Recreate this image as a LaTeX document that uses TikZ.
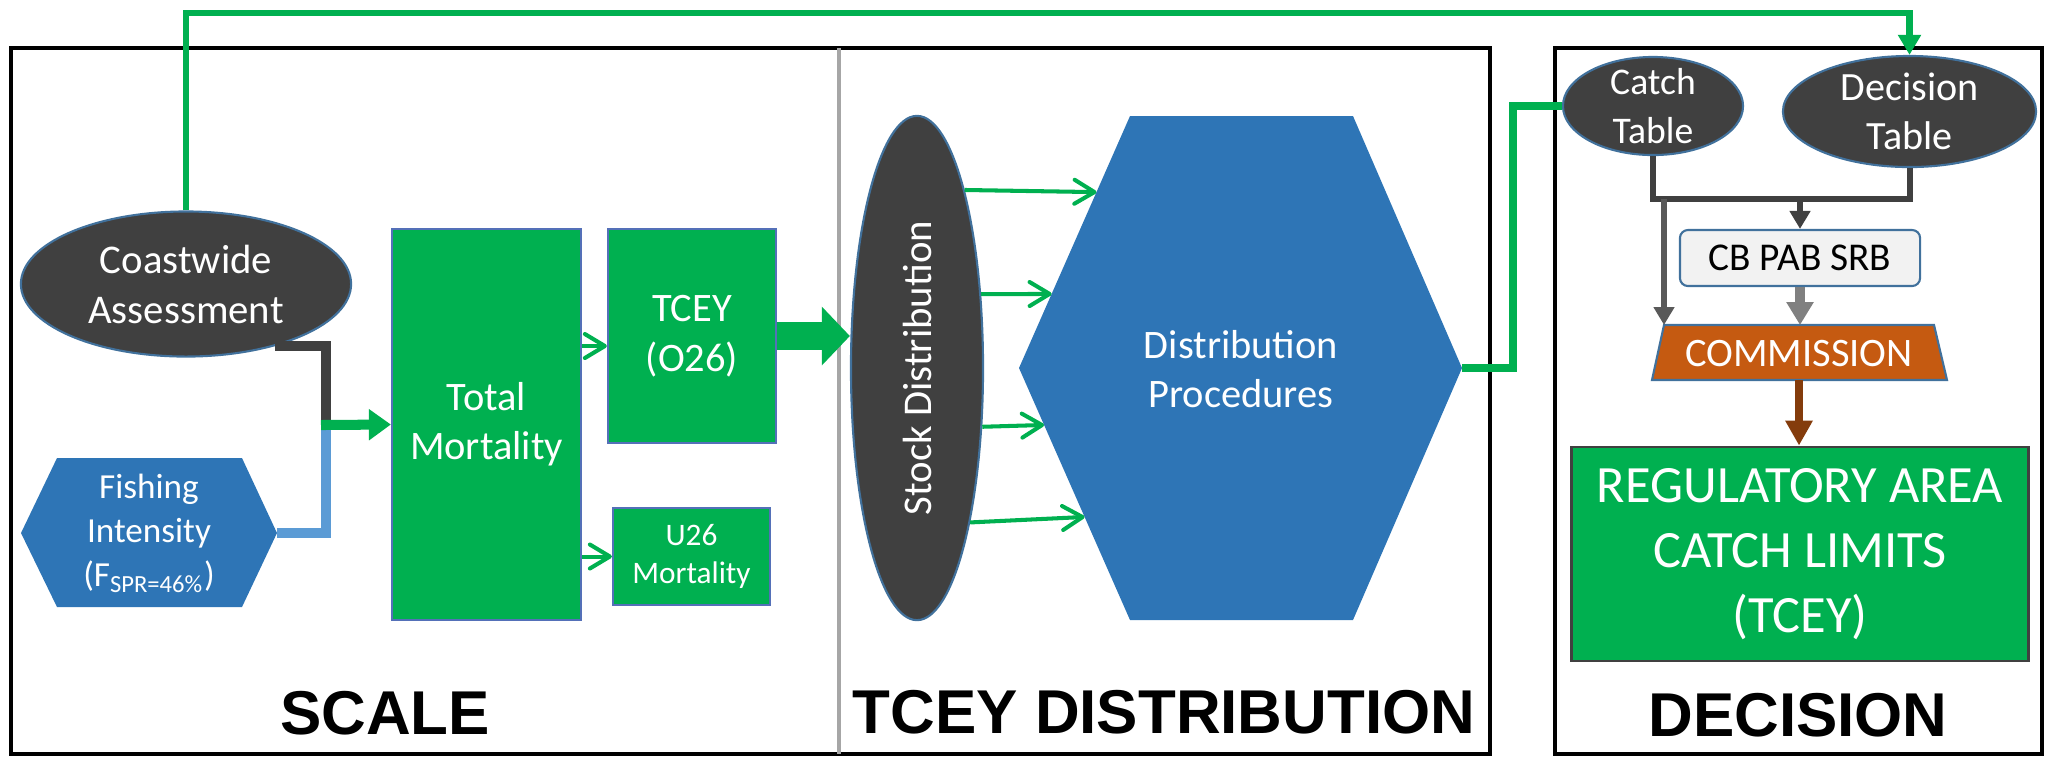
\documentclass[tikz,border=0pt]{standalone}
\usepackage{fontspec}
\setmainfont{Carlito}
\newfontfamily\headfont{Liberation Sans}
\usepackage{graphicx}
\usetikzlibrary{arrows.meta,shapes.geometric,calc}

\definecolor{mortgreen}{HTML}{00B050}
\definecolor{hexblue}{HTML}{2E75B6}
\definecolor{linkblue}{HTML}{5B9BD5}
\definecolor{darkfill}{HTML}{404040}
\definecolor{rimblue}{HTML}{41719C}
\definecolor{boxrim}{HTML}{5470B8}
\definecolor{commorange}{HTML}{C55A11}
\definecolor{commbrown}{HTML}{843C0C}
\definecolor{cbfill}{HTML}{F2F2F2}
\definecolor{midgray}{HTML}{595959}
\definecolor{arrowgray}{HTML}{808080}

\newcommand{\txtsize}[2]{\fontsize{#1}{#2}\selectfont}

\begin{document}
\begin{tikzpicture}[x=0.01cm,y=-0.01cm,
  frame/.style={draw=black,line width=1.1pt},
  darkell/.style={ellipse,fill=darkfill,draw=rimblue,line width=0.6pt,text=white,align=center,inner sep=0pt},
  greenbox/.style={rectangle,fill=mortgreen,draw=boxrim,line width=0.6pt,text=white,align=center,inner sep=0pt},
  headlbl/.style={font={\headfont\bfseries\txtsize{17.6}{20}},inner sep=0pt},
  darklink/.style={draw=darkfill,line width=2.85pt},
  bluelink/.style={draw=linkblue,line width=2.85pt},
  feedarr/.style={draw=mortgreen,line width=2.85pt,-{Triangle[length=2.2mm,width=3mm]}},
  bigarr/.style={draw=mortgreen,line width=7.7pt,-{Triangle[length=2.8mm,width=5.7mm]}},
  thinarr/.style={draw=mortgreen,line width=1.15pt,-{Straight Barb[length=2mm,width=2.4mm,round]}},
  greenlink/.style={draw=mortgreen,line width=2.3pt},
  toparr/.style={draw=mortgreen,line width=1.8pt,-{Triangle[length=2mm,width=2.2mm]}},
  barlink/.style={draw=darkfill,line width=1.7pt},
  bararr/.style={draw=darkfill,line width=1.7pt,-{Triangle[length=1.8mm,width=2mm]}},
  cbarr/.style={draw=arrowgray,line width=2.6pt,-{Triangle[length=2.3mm,width=2.6mm]}},
  brownarr/.style={draw=commbrown,line width=2.3pt,-{Triangle[length=2.5mm,width=2.6mm]}}]

\useasboundingbox (0,0) rectangle (2045,756);

\draw[frame] (11,48) rectangle (1490,754);
\draw[frame] (1555,48) rectangle (2042,754);
\draw[gray!70,line width=0.9pt] (839,48) -- (839,754);

\node[darkell,minimum width=3.3cm,minimum height=1.45cm,font={\txtsize{11.6}{14.2}}] (coast) at (186,284) {Coastwide\\Assessment};
\fill[hexblue] (21,533) -- (57,458) -- (242,458) -- (277,533) coordinate (fishtip) -- (242,607) -- (57,607) -- cycle;
\node[text=white,align=center,inner sep=0pt,font={\txtsize{10}{12.6}}] (fish) at (149,533) {Fishing\\Intensity\\(F\textsubscript{SPR=46\%})};
\node[greenbox,minimum width=1.89cm,minimum height=3.91cm,font={\txtsize{11.5}{14}}] (total) at (486.5,424.5) {Total\\Mortality};
\node[greenbox,minimum width=1.68cm,minimum height=2.14cm,font={\txtsize{11.5}{14.2}}] (tcey) at (692,336) {TCEY\\(O26)};
\node[greenbox,minimum width=1.57cm,minimum height=0.97cm,font={\txtsize{8.9}{11}}] (u26) at (691.5,556.5) {U26\\Mortality};
\node[headlbl] (scalelbl) at (385,713) {SCALE};

\node[darkell,minimum width=1.32cm,minimum height=5.04cm,font={\txtsize{11.6}{14}}] (stock) at (917,368) {\rotatebox{90}{Stock Distribution}};
\fill[hexblue] (1019,368) coordinate (dl) -- (1130,116) coordinate (dul) -- (1353,116) -- (1462,368) coordinate (dr) -- (1353,620) -- (1130,620) coordinate (dll) -- cycle;
\node[text=white,align=center,inner sep=0pt,font={\txtsize{11.5}{13.7}}] (procs) at (1241,369) {Distribution\\Procedures};
\node[headlbl] (distlbl) at (1164,712) {TCEY DISTRIBUTION};

\node[darkell,inner ysep=-1mm,minimum width=1.8cm,minimum height=0.98cm,font={\txtsize{10.7}{13.8}}] (catch) at (1653,106) {Catch\\Table};
\node[darkell,inner ysep=-1mm,minimum width=2.53cm,minimum height=1.11cm,font={\txtsize{11.4}{13.9}}] (dect) at (1909.5,111.5) {Decision\\Table};
\node[rectangle,rounded corners=0.08cm,fill=cbfill,draw=rimblue,line width=0.6pt,inner sep=0pt,minimum width=2.4cm,minimum height=0.56cm,font={\txtsize{11.2}{13}}] (cb) at (1800,258) {CB PAB SRB};
\filldraw[fill=commorange,draw=rimblue,line width=0.6pt] (1664,325) coordinate (ctl) -- (1934,325) -- (1947,380) -- (1652,380) -- cycle;
\coordinate (ctop) at (1799,325);
\coordinate (cbot) at (1799,380);
\node[text=white,inner sep=0pt,font={\txtsize{11.5}{14}}] (comm) at (1799,353) {COMMISSION};
\node[greenbox,draw=black!75,line width=0.8pt,minimum width=4.56cm,minimum height=2.14cm,font={\txtsize{14.9}{18.5}}] (reg) at (1800,554) {REGULATORY AREA\\CATCH LIMITS\\(TCEY)};
\node[headlbl] (declbl) at (1798,715) {DECISION};

\coordinate (jn) at (326,425);
\draw[darklink] (coast.325) -| (jn);
\draw[bluelink] (fishtip) -| (jn);
\draw[feedarr] ([xshift=-0.05cm]jn) -- (total.west);

\coordinate (tin) at ([yshift=-0.1cm]tcey.west);
\draw[thinarr] (tin -| total.east) -- (tin);
\draw[thinarr] (total.east |- u26.west) -- (u26.west);
\draw[bigarr] (tcey.east) -- (tcey.east -| stock.west);

\draw[thinarr] (stock.75) -- ($(dl)!0.698!(dul)$);
\draw[thinarr] (stock.49.5) -- ($(dl)!0.294!(dul)$);
\draw[thinarr] (stock.318.5) -- ($(dl)!0.226!(dll)$);
\draw[thinarr] (stock.289.7) -- ($(dl)!0.591!(dll)$);

\draw[greenlink] (dr) -- ++(51,0) |- (catch.west);
\coordinate (topy) at (0,13);
\draw[toparr] (coast.north) |- (topy -| dect.north) -- (dect.north);

\coordinate (bar) at (0,199);
\draw[barlink] (catch.south) |- (bar -| dect.south) -- (dect.south);
\draw[bararr] (bar -| cb.north) -- (cb.north);
\draw[bararr,draw=midgray] (bar -| ctl) -- (ctl);
\draw[cbarr] (cb.south) -- (cb.south |- ctop);
\draw[brownarr] (cbot) -- (cbot |- reg.north);

\end{tikzpicture}
\end{document}
